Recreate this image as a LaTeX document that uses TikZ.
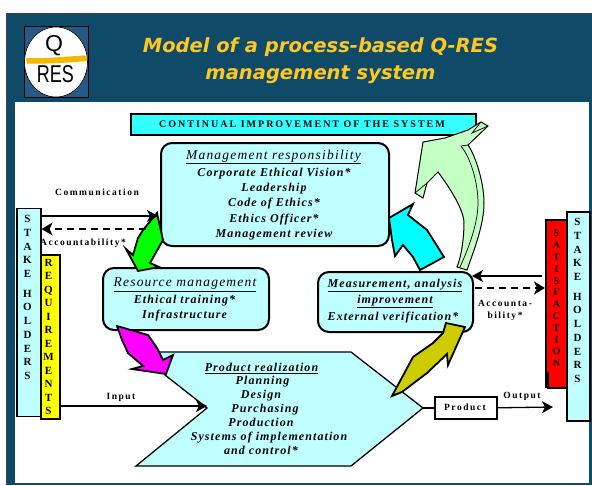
\documentclass[tikz,border=0pt]{standalone}
\usepackage{fontspec}
\usepackage{graphicx}
\usetikzlibrary{arrows.meta}
\setmainfont{Liberation Serif}
\newfontfamily\spacedfont[LetterSpace=9]{Liberation Serif}
\newfontfamily\widefont[LetterSpace=16]{Liberation Serif}
\newfontfamily\barfont[LetterSpace=20]{Liberation Serif}
\newfontfamily\titlefont{DejaVu Sans}
\newfontfamily\logofont{Liberation Sans}
\definecolor{navy}{HTML}{0F4A68}
\definecolor{logoblue}{HTML}{265A85}
\definecolor{titlegold}{HTML}{FFC820}
\definecolor{boxfill}{HTML}{BFFFFF}
\definecolor{barcyan}{HTML}{33FFFF}
\definecolor{palegreen}{HTML}{C4FFC4}
\definecolor{olive}{HTML}{CCCC00}
\definecolor{brush}{HTML}{F5B800}
\definecolor{purecyan}{HTML}{00FFFF}
\definecolor{puremagenta}{HTML}{FF00FF}
\definecolor{puregreen}{HTML}{00FF00}
\definecolor{purered}{HTML}{FF0000}
\definecolor{pureyellow}{HTML}{FFFF00}
\tikzset{
  x=1pt,y=-1pt,
  roundbox/.style={draw=black,line width=2pt,fill=boxfill,rounded corners=11pt},
  pane/.style={draw=black,line width=1.6pt,anchor=north west,inner sep=0pt},
  lettercol/.style={align=center,inner sep=0pt,font=\bfseries\fontsize{11}{13.7}\selectfont},
  itext/.style={inner sep=0pt,align=center,font=\spacedfont\bfseries\itshape\fontsize{12}{15.2}\selectfont},
  htext/.style={inner sep=0pt,font=\spacedfont\itshape\fontsize{13.5}{14}\selectfont},
  ptext/.style={inner sep=0pt,font=\spacedfont\bfseries\itshape\fontsize{12}{13}\selectfont},
  label/.style={inner sep=0pt,align=center,font=\widefont\bfseries\fontsize{9.5}{12}\selectfont},
  bigarrow/.style={draw=black,line width=1.8pt,line join=miter},
  foldline/.style={draw=black,line width=.7pt},
  solidflow/.style={draw=black,line width=1.8pt,-{Stealth[length=11pt,width=12pt,inset=3pt]}},
  thinflow/.style={draw=black,line width=1.3pt,-{Stealth[length=11pt,width=12pt,inset=3pt]}},
  dashflow/.style={draw=black,line width=1.8pt,dash pattern=on 7pt off 5pt,-{Stealth[length=11pt,width=13pt,inset=3pt]}},
}
\begin{document}
\begin{tikzpicture}
\useasboundingbox (0,0) rectangle (592,485);
% frame
\fill[navy] (7,14) rectangle (592,485);
\draw[black!75,line width=1pt] (6.5,485) -- (6.5,13.5) -- (592,13.5);
\fill[white] (15,102) rectangle (589,483);
% logo
\draw[black,fill=logoblue,line width=.8pt] (24,26.5) rectangle (88,97);
\fill[white] (56,62) ellipse [x radius=31.5,y radius=35];
\draw[black,line width=.6pt] (56,62) ellipse [x radius=31.5,y radius=35];
\node[inner sep=0pt,font=\logofont\fontsize{23}{23}\selectfont] (logoq) at (54,46) {Q};
\fill[brush] (26,58) .. controls (45,59) and (70,56) .. (87,55.5) -- (87,61) .. controls (65,63) and (45,64) .. (27,63.5) -- cycle;
\node[inner sep=0pt] (logores) at (55.5,74.5) {\logofont\resizebox{37pt}{17pt}{RES}};
% title
\node[inner sep=0pt,align=center,text=titlegold,font=\titlefont\bfseries\itshape\fontsize{19.5}{27}\selectfont] (title) at (320.5,60.5) {Model of a process-based Q-RES\\management system};
% continual
\node[pane,line width=1.8pt,fill=barcyan,minimum width=345pt,minimum height=21pt] (continual) at (130,113) {};
\node[inner sep=0pt,font=\barfont\bfseries\fontsize{10}{11}\selectfont] (continualtext) at (302,124) {CONTINUAL IMPROVEMENT OF THE SYSTEM};
% pale green arrow
\path[bigarrow,line width=1pt,fill=palegreen] (423,142) -- (445,138) -- (468,130) -- (481,122) -- (488,126) -- (468,145) .. controls (474,153) and (484,180) .. (484,203) .. controls (484,225) and (474,250) .. (467,270) -- (457,267) .. controls (462,255) and (464,235) .. (464,223) .. controls (464,210) and (450,188) .. (438,172) -- (427,183) -- (423,198) -- (415,193) -- cycle;
\draw[foldline] (415,193) -- (427,183);
\draw[foldline] (481,122) -- (472,133) -- (488,126);
\draw[foldline] (468,145) -- (461,146) .. controls (472,160) and (478,185) .. (478,203) .. controls (478,222) and (470,245) .. (460,267);
% boxes
\node[roundbox,anchor=north west,minimum width=228pt,minimum height=103pt] (mgmt) at (160,142) {};
\node[roundbox,anchor=north west,minimum width=166pt,minimum height=62pt] (resource) at (102,267) {};
\node[roundbox,anchor=north west,minimum width=155pt,minimum height=60pt] (measure) at (317,271) {};
% product polygon
\path[draw=black,line width=1.3pt,fill=boxfill] (157,352) -- (351,352) -- (423,408) -- (351,466) -- (136,466) -- (207,408) -- (165,375) -- cycle;
\coordinate (prodtip) at (423,408);
\coordinate (prodnotch) at (207,406);
% block arrows
\path[bigarrow,fill=puregreen] (157,213) -- (163,240) -- (150,263) -- (159,267) -- (138,271) -- (126,249) -- (133,255) -- (138,238) -- (143,230) -- cycle;
\path[bigarrow,fill=puremagenta] (117,326) -- (148,335) -- (157,348) -- (163,360) -- (173,355) -- (166,374) -- (132,369) -- (143,366) -- (128,353) -- (122,340) -- cycle;
\path[bigarrow,fill=purecyan] (389,218) -- (413,204) -- (408,215) -- (427,230) -- (444,257) -- (420,270) -- (413,257) -- (403,245) -- (395,256) -- (392,240) -- cycle;
\path[bigarrow,fill=olive] (392,396) -- (413,357) -- (433,343) -- (443,333) -- (446,323) -- (465,327) -- (448,365) -- (447,354) -- (427,373) -- (402,392) -- cycle;
% side columns
\node[pane,fill=boxfill,minimum width=24pt,minimum height=208pt] (stakeL) at (16,207.5) {};
\node[lettercol] (stakeLtext) at (27.5,297.5) {S\\T\\A\\K\\E\\[6pt]H\\O\\L\\D\\E\\R\\S};
\node[pane,fill=pureyellow,minimum width=19pt,minimum height=164pt] (reqs) at (40,254) {};
\node[lettercol,font=\bfseries\fontsize{11}{13.5}\selectfont] (reqstext) at (48.5,337) {R\\E\\Q\\U\\I\\R\\E\\M\\E\\N\\T\\S};
\node[pane,fill=purered,draw=none,minimum width=20pt,minimum height=168pt] (satis) at (546,220) {};
\draw[black,line width=1.4pt] (546,388) -- (546,220) -- (566,220) (548,372) -- (548,388) -- (566,388);
\node[lettercol,font=\bfseries\fontsize{10}{11.8}\selectfont] (satistext) at (556.5,298.5) {S\\A\\T\\I\\S\\F\\A\\C\\T\\I\\O\\N};
\node[pane,fill=boxfill,minimum width=23pt,minimum height=209pt] (stakeR) at (566,211) {};
\node[lettercol] (stakeRtext) at (577.5,300.5) {S\\T\\A\\K\\E\\[6pt]H\\O\\L\\D\\E\\R\\S};
% product box
\node[pane,fill=white,minimum width=62pt,minimum height=22pt] (product) at (434,396) {};
\node[label] (producttext) at (465,407) {Product};
% box texts
\node[htext] (mgmthead) at (273.5,157) {\underline{Management responsibility}};
\node[itext] (mgmttext) at (274,204) {Corporate Ethical Vision*\\Leadership\\Code of Ethics*\\Ethics Officer*\\Management review};
\node[htext] (reshead) at (185,284.5) {\underline{Resource management}};
\node[itext] (restext) at (184.5,308) {Ethical training*\\Infrastructure};
\node[itext,font=\spacedfont\bfseries\itshape\fontsize{12}{16}\selectfont] (meashead) at (395,293.5) {\underline{Measurement, analysis}\\\underline{improvement}};
\node[itext] (meastext) at (393,317.5) {External verification*};
\node[ptext] (p1) at (261.5,368.5) {\underline{Product realization}};
\node[ptext] (p2) at (262.5,381.5) {Planning};
\node[ptext] (p3) at (261,395.5) {Design};
\node[ptext] (p4) at (265,409.5) {Purchasing};
\node[ptext] (p5) at (261,422.5) {Production};
\node[ptext] (p6) at (269,437.5) {Systems of implementation};
\node[ptext] (p7) at (261,450.5) {and control*};
% connectors
\coordinate (comA) at (stakeL.east |- 0,216);
\coordinate (comB) at (158,216);
\draw[solidflow] (comA) -- (comB);
\coordinate (accA) at (146,229);
\coordinate (accB) at (stakeL.east |- 0,229);
\draw[dashflow] (accA) -- (accB);
\coordinate (inA) at (reqs.east |- 0,406);
\draw[thinflow] (inA) -- (prodnotch);
\draw[black,line width=2.4pt] (prodtip) -- (product.west |- prodtip);
\coordinate (outB) at (553,407);
\draw[thinflow] (product.east) -- (outB);
\coordinate (backA) at (542,276);
\coordinate (backB) at (472,276);
\draw[thinflow] (backA) -- (backB);
\coordinate (dashA) at (475,288);
\coordinate (dashB) at (545,288);
\draw[dashflow] (dashA) -- (dashB);
% labels
\node[label] (communication) at (97,192) {Communication};
\node[label] (accountL) at (83,243) {Accountability*};
\node[label] (input) at (121,397.5) {Input};
\node[label] (output) at (522,396) {Output};
\node[label] (accountR) at (505,310) {Accounta-\\bility*};
\end{tikzpicture}
\end{document}
